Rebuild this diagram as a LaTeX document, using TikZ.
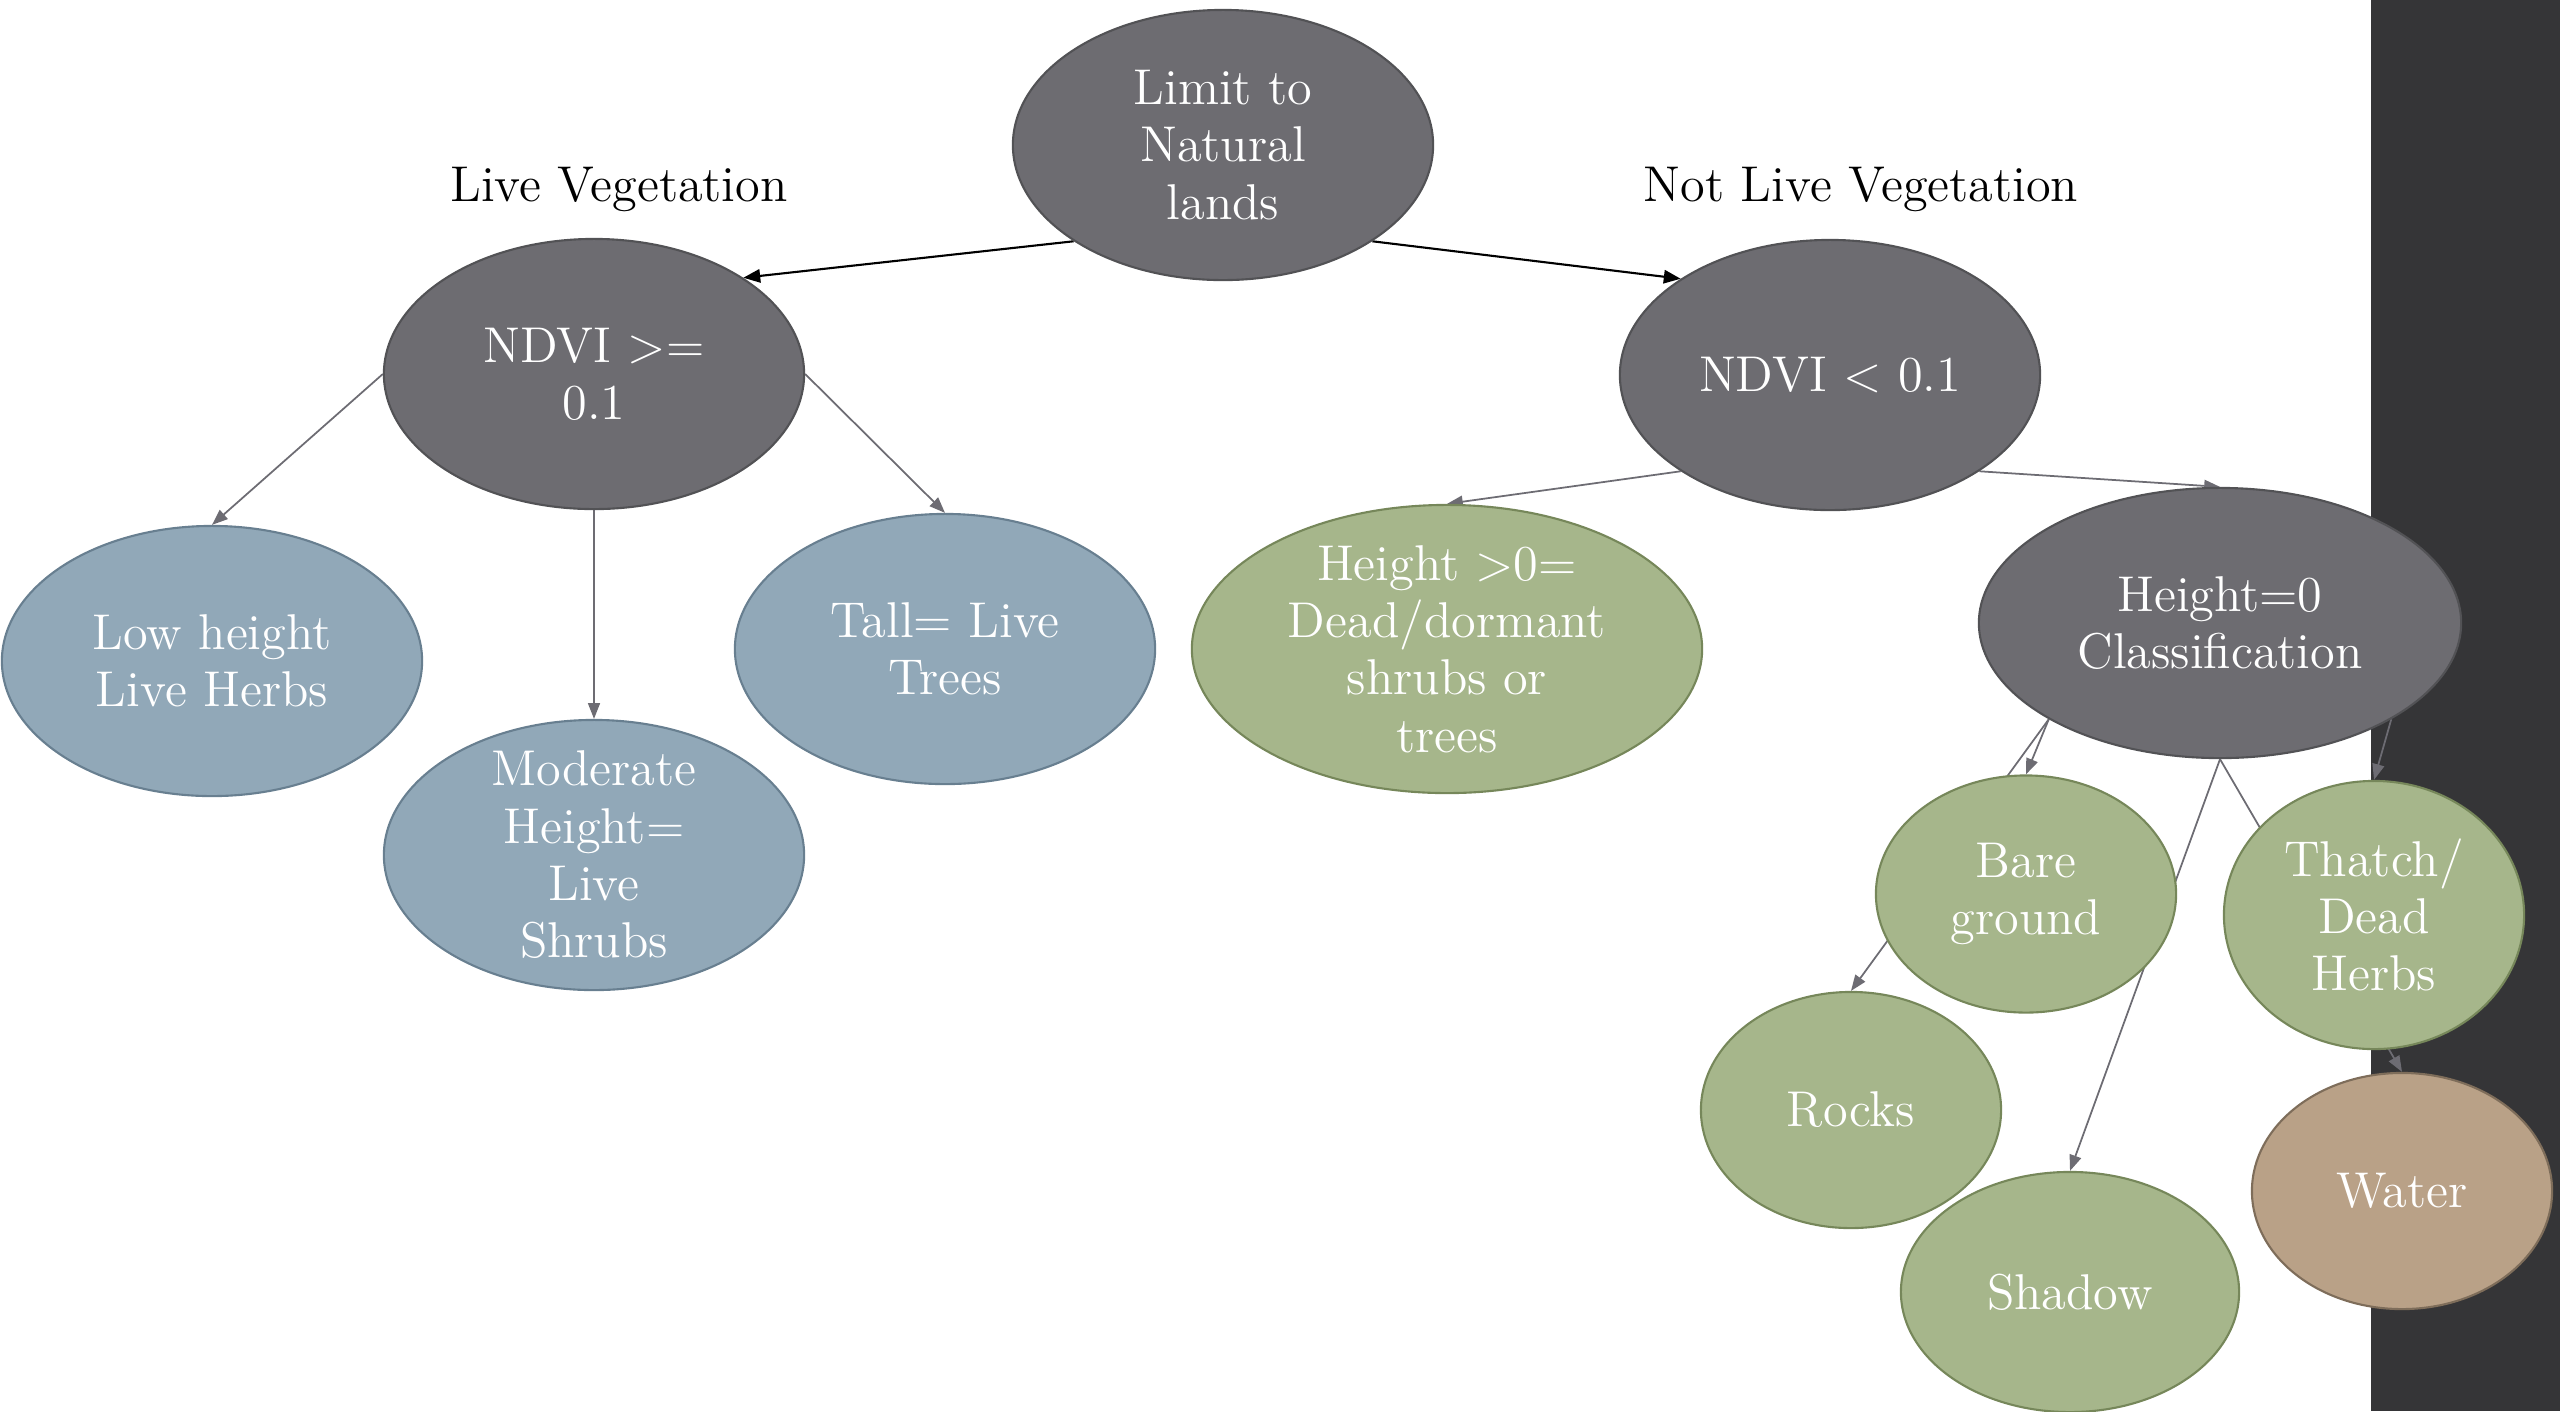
\documentclass[tikz,border=0pt]{standalone}
\usepackage{fontspec}
\usepackage{xcolor}
\usetikzlibrary{shapes.geometric, arrows.meta}

\definecolor{nodegrey}{HTML}{6D6C71}
\definecolor{nodegreyline}{HTML}{525255}
\definecolor{liveblue}{HTML}{91A8B8}
\definecolor{liveblueline}{HTML}{687F90}
\definecolor{deadgreen}{HTML}{A6B68B}
\definecolor{deadgreenline}{HTML}{76875A}
\definecolor{waterbrown}{HTML}{B9A187}
\definecolor{waterbrownline}{HTML}{7E6D5A}
\definecolor{bandgrey}{HTML}{353537}
\definecolor{linkgrey}{HTML}{6D6C73}

\pgfdeclarelayer{back}
\pgfdeclarelayer{background}
\pgfsetlayers{back,background,main}

\begin{document}
\begin{tikzpicture}[x=0.01cm, y=-0.01cm,
    every node/.style={font=\fontsize{14.3}{16.3}\selectfont},
    oval/.style={ellipse, align=center, text=white, inner sep=-2.5mm, line width=0.6pt},
    dims/.style 2 args={minimum width=#1cm, minimum height=#2cm},
    greyoval/.style={oval, fill=nodegrey, draw=nodegreyline},
    blueoval/.style={oval, fill=liveblue, draw=liveblueline},
    greenoval/.style={oval, fill=deadgreen, draw=deadgreenline},
    brownoval/.style={oval, fill=waterbrown, draw=waterbrownline},
    mainlink/.style={black, line width=0.6pt, -{Triangle[length=4.8pt, width=3.8pt]}},
    link/.style={linkgrey, line width=0.5pt, -{Triangle[length=4.5pt, width=3.4pt]}}]

    \useasboundingbox (0, 0) rectangle (2560, 1411);

    \node[greyoval, dims={4.2}{2.7}] (limit) at (1223, 145) {Limit to\\Natural\\lands};

    \node[greyoval, dims={4.2}{2.7}] (ndvihi) at (594, 374) {NDVI >=\\0.1};
    \node[greyoval, dims={4.2}{2.7}] (ndvilo) at (1830, 375) {NDVI < 0.1};

    \node (livelbl) at (619, 189) {Live Vegetation};
    \node (notlivelbl) at (1861, 189) {Not Live Vegetation};

    \node[blueoval, dims={4.2}{2.7}] (lowherb) at (212, 661) {Low height\\Live Herbs};
    \node[blueoval, dims={4.2}{2.7}] (modshrub) at (594, 855) {Moderate\\Height=\\Live\\Shrubs};
    \node[blueoval, dims={4.2}{2.7}] (talltree) at (945, 649) {Tall= Live\\Trees};

    \node[greenoval, dims={5.1}{2.88}] (deadwood) at (1447, 649) {Height >0=\\Dead/dormant\\shrubs or\\trees};
    \node[greyoval, dims={4.82}{2.7}] (hzero) at (2220, 623) {Height=0\\Classification};

    \node[greenoval, dims={3.0}{2.37}] (bare) at (2026, 894) {Bare\\ground};
    \node[greenoval, dims={3.0}{2.68}] (thatch) at (2374, 915) {Thatch/\\Dead\\Herbs};
    \node[greenoval, dims={3.0}{2.36}] (rocks) at (1851, 1110) {Rocks};
    \node[greenoval, dims={3.38}{2.4}] (shadow) at (2070, 1292) {Shadow};
    \node[brownoval, dims={3.0}{2.36}] (water) at (2402, 1191) {Water};

    \begin{pgfonlayer}{back}
        \fill[bandgrey] (2371, 0) rectangle (2560, 1411);
    \end{pgfonlayer}

    \begin{pgfonlayer}{background}
        \draw[mainlink] (limit.south west) -- (ndvihi.north east);
        \draw[mainlink] (limit.south east) -- (ndvilo.north west);

        \draw[link] (ndvihi.west) -- (lowherb.north);
        \draw[link] (ndvihi.south) -- (modshrub.north);
        \draw[link] (ndvihi.east) -- (talltree.north);

        \draw[link] (ndvilo.south west) -- (deadwood.north);
        \draw[link] (ndvilo.south east) -- (hzero.north);

        \draw[link] (hzero.south west) -- (bare.north);
        \draw[link] (hzero.south west) -- (rocks.north);
        \draw[link] (hzero.south) -- (shadow.north);
        \draw[link] (hzero.south) -- (water.north);
        \draw[link] (hzero.south east) -- (thatch.north);
    \end{pgfonlayer}
\end{tikzpicture}
\end{document}
